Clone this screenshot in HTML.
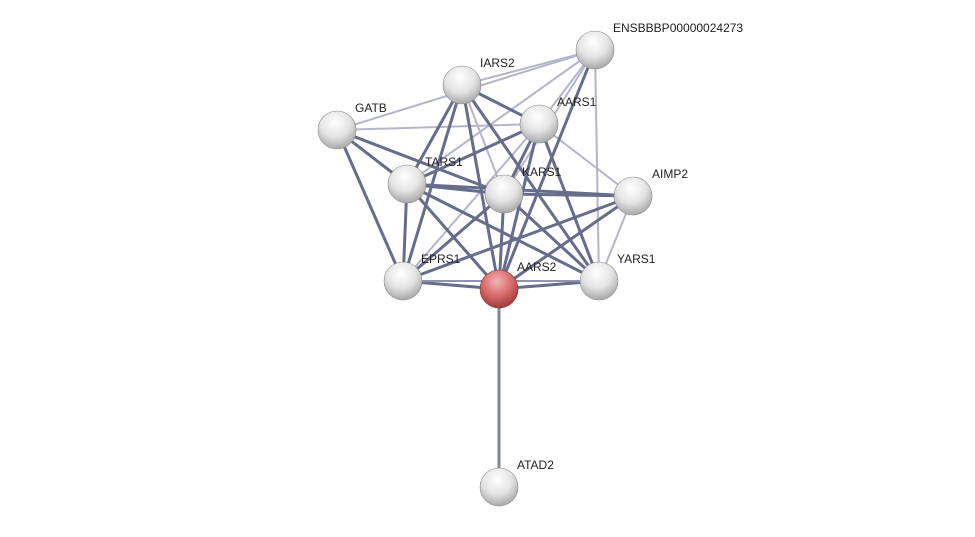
<!DOCTYPE html>
<html><head><meta charset="utf-8"><style>
html,body{margin:0;padding:0;background:#fff;}
svg text{font-family:"Liberation Sans",sans-serif;font-size:12px;fill:#222;}
</style></head><body>
<svg width="975" height="532" viewBox="0 0 975 532" xmlns="http://www.w3.org/2000/svg">
<defs>
<radialGradient id="g" cx="45%" cy="30%" r="70%">
<stop offset="0" stop-color="#ffffff"/><stop offset="0.55" stop-color="#e4e4e4"/><stop offset="1" stop-color="#a8a8a8"/></radialGradient>
<radialGradient id="r" cx="45%" cy="30%" r="70%">
<stop offset="0" stop-color="#f2b5b5"/><stop offset="0.55" stop-color="#d86a6a"/><stop offset="1" stop-color="#a03a3a"/></radialGradient>
</defs>
<g stroke-linecap="round">
<g stroke="#b3b6cb" stroke-width="2">
<line x1="595" y1="50" x2="462" y2="85"/>
<line x1="595" y1="50" x2="337" y2="130"/>
<line x1="595" y1="50" x2="407" y2="184"/>
<line x1="595" y1="50" x2="504" y2="194"/>
<line x1="595" y1="50" x2="599" y2="281"/>
<line x1="595" y1="50" x2="539" y2="124"/>
<line x1="337" y1="130" x2="539" y2="124"/>
<line x1="462" y1="85" x2="504" y2="194"/>
<line x1="539" y1="124" x2="633" y2="196"/>
<line x1="633" y1="196" x2="599" y2="281"/>
<line x1="539" y1="124" x2="403" y2="281"/>
</g>
<g stroke="#666c8b" stroke-width="3">
<line x1="595" y1="50" x2="499" y2="289"/>
<line x1="462" y1="85" x2="539" y2="124"/>
<line x1="462" y1="85" x2="407" y2="184"/>
<line x1="462" y1="85" x2="403" y2="281"/>
<line x1="462" y1="85" x2="499" y2="289"/>
<line x1="462" y1="85" x2="599" y2="281"/>
<line x1="337" y1="130" x2="407" y2="184"/>
<line x1="337" y1="130" x2="403" y2="281"/>
<line x1="337" y1="130" x2="504" y2="194"/>
<line x1="539" y1="124" x2="407" y2="184"/>
<line x1="539" y1="124" x2="504" y2="194"/>
<line x1="539" y1="124" x2="499" y2="289"/>
<line x1="539" y1="124" x2="599" y2="281"/>
<line x1="407" y1="184" x2="504" y2="194"/>
<line x1="407" y1="184" x2="633" y2="196"/>
<line x1="407" y1="184" x2="403" y2="281"/>
<line x1="407" y1="184" x2="499" y2="289"/>
<line x1="407" y1="184" x2="599" y2="281"/>
<line x1="504" y1="194" x2="633" y2="196"/>
<line x1="504" y1="194" x2="403" y2="281"/>
<line x1="504" y1="194" x2="499" y2="289"/>
<line x1="504" y1="194" x2="599" y2="281"/>
<line x1="633" y1="196" x2="403" y2="281"/>
<line x1="633" y1="196" x2="499" y2="289"/>
<line x1="403" y1="281" x2="499" y2="289"/>
<line x1="499" y1="289" x2="599" y2="281"/>
<line x1="403" y1="281" x2="599" y2="281" stroke-width="2" stroke="#8f94ac"/>
<line x1="499" y1="289" x2="499" y2="487" stroke="#80859f"/>
</g>
</g>
<g stroke="#888" stroke-width="0.6">
<circle cx="595" cy="50" r="19" fill="url(#g)"/>
<circle cx="462" cy="85" r="19" fill="url(#g)"/>
<circle cx="337" cy="130" r="19" fill="url(#g)"/>
<circle cx="539" cy="124" r="19" fill="url(#g)"/>
<circle cx="407" cy="184" r="19" fill="url(#g)"/>
<circle cx="504" cy="194" r="19" fill="url(#g)"/>
<circle cx="633" cy="196" r="19" fill="url(#g)"/>
<circle cx="403" cy="281" r="19" fill="url(#g)"/>
<circle cx="599" cy="281" r="19" fill="url(#g)"/>
<circle cx="499" cy="289" r="19" fill="url(#r)" stroke="#8a3030"/>
<circle cx="499" cy="487" r="19" fill="url(#g)"/>
</g>
<text x="613" y="32">ENSBBBP00000024273</text>
<text x="480" y="67">IARS2</text>
<text x="355" y="112">GATB</text>
<text x="557" y="106">AARS1</text>
<text x="425" y="166">TARS1</text>
<text x="522" y="176">KARS1</text>
<text x="652" y="178">AIMP2</text>
<text x="421" y="263">EPRS1</text>
<text x="517" y="271">AARS2</text>
<text x="617" y="263">YARS1</text>
<text x="517" y="469">ATAD2</text>
</svg>
</body></html>
